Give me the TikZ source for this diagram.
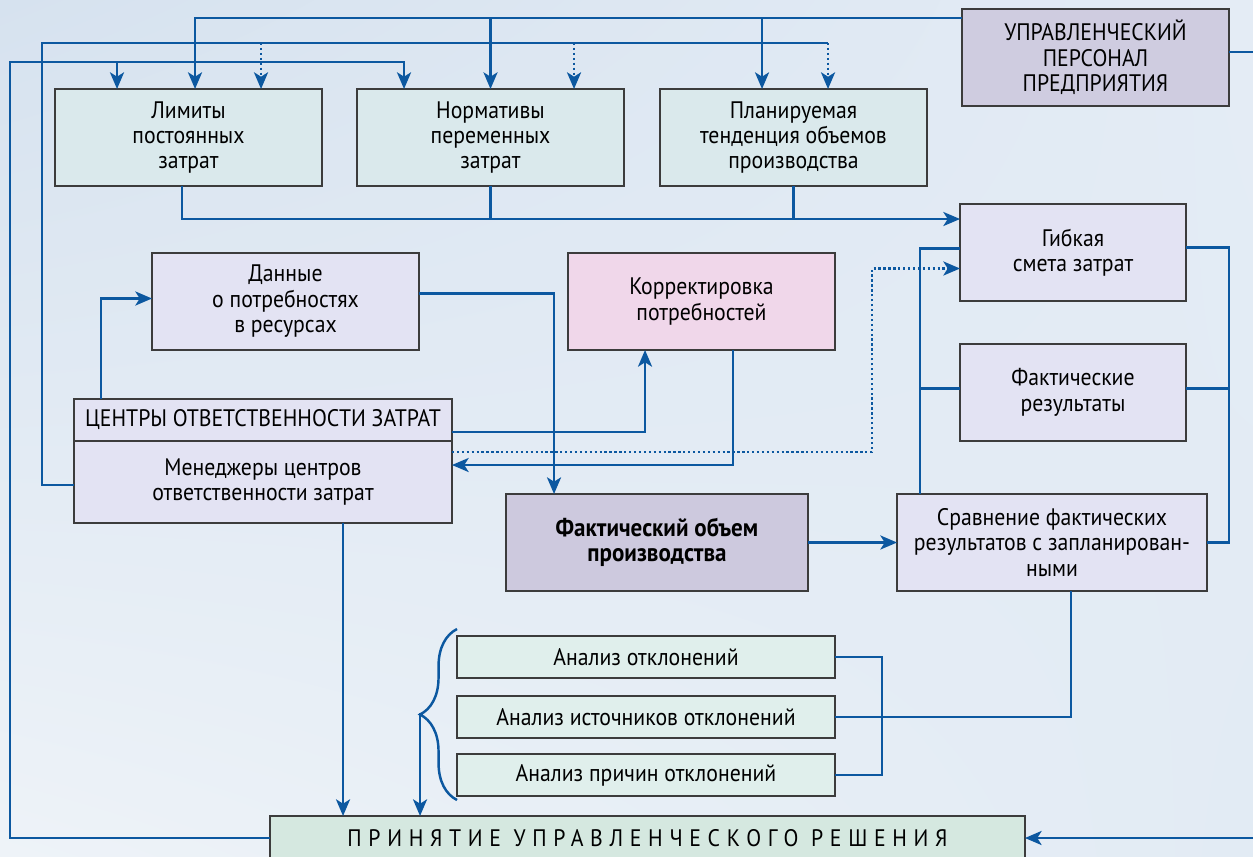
\documentclass[tikz,border=0pt]{standalone}
\usepackage{fontspec}
\setmainfont{PT Sans}[FakeStretch=0.91]
\usetikzlibrary{arrows.meta,shadings}
\usetikzlibrary{calc,decorations.pathreplacing}

\definecolor{lineblue}{RGB}{12,88,160}
\definecolor{boxline}{RGB}{60,60,60}
\definecolor{topfill}{RGB}{218,233,236}
\definecolor{uprfill}{RGB}{207,204,224}
\definecolor{lilfill}{RGB}{227,227,243}
\definecolor{korrfill}{RGB}{240,215,234}
\definecolor{objfill}{RGB}{205,201,222}
\definecolor{anfill}{RGB}{224,239,236}
\definecolor{prinfill}{RGB}{213,232,224}
\definecolor{bgA}{RGB}{214,226,239}
\definecolor{bgB}{RGB}{228,236,245}
\definecolor{bgC}{RGB}{238,243,248}
\definecolor{bgD}{RGB}{226,235,244}

\begin{document}
\begin{tikzpicture}[x=0.02cm, y=-0.02cm, >={Stealth[length=9.5pt,width=8pt,inset=2.5pt]},
  box/.style={draw=boxline, line width=0.7pt, align=center, inner sep=2pt, outer sep=0pt,
    font=\fontsize{13.6}{14.5}\selectfont},
  link/.style={draw=lineblue, line width=1.4pt},
  dotlink/.style={link, dash pattern=on 1.3pt off 1.5pt}]

      % background
      \shade[upper left=bgA, upper right=bgB, lower left=bgC, lower right=bgD]
      (0,0) rectangle (1253,856);
      \useasboundingbox (0,0) rectangle (1253,856);

      \node (upr) at (1095.5,57.5)
      [box, fill=uprfill, minimum width=5.34cm, minimum height=1.94cm]
      {УПРАВЛЕНЧЕСКИЙ\\ПЕРСОНАЛ\\ПРЕДПРИЯТИЯ};

      \node (lim) at (188.5,137.5)
      [box, fill=topfill, minimum width=5.34cm, minimum height=1.94cm]
      {Лимиты\\постоянных\\затрат};
      \node (norm) at (490.5,137.5)
      [box, fill=topfill, minimum width=5.34cm, minimum height=1.94cm]
      {Нормативы\\переменных\\затрат};
      \node (plan) at (793.5,137.5)
      [box, fill=topfill, minimum width=5.34cm, minimum height=1.94cm]
      {Планируемая\\тенденция объемов\\производства};

      \node (dan) at (285.5,301.5)
      [box, fill=lilfill, minimum width=5.34cm, minimum height=1.94cm]
      {Данные\\о потребностях\\в ресурсах};
      \node (korr) at (701.5,301.5)
      [box, fill=korrfill, minimum width=5.34cm, minimum height=1.94cm]
      {Корректировка\\потребностей};

      \node (gib) at (1073,252.5)
      [box, fill=lilfill, minimum width=4.52cm, minimum height=1.94cm]
      {Гибкая\\смета затрат};
      \node (fakt) at (1073,392.5)
      [box, fill=lilfill, minimum width=4.52cm, minimum height=1.94cm]
      {Фактические\\результаты};
      \node (srav) at (1052,542.5)
      [box, fill=lilfill, minimum width=6.2cm, minimum height=1.94cm]
      {Сравнение фактических\\результатов с запланирован-\\ными};

      \node (cen) at (263,420)
      [box, fill=lilfill, minimum width=7.56cm, minimum height=0.84cm]
      {ЦЕНТРЫ ОТВЕТСТВЕННОСТИ ЗАТРАТ};
      \node (men) at (263,482)
      [box, fill=lilfill, minimum width=7.56cm, minimum height=1.64cm]
      {Менеджеры центров\\ответственности затрат};

      \node (fobj) at (657,542.5)
      [box, fill=objfill, minimum width=6.04cm, minimum height=1.94cm,
      font=\fontsize{14.4}{14.5}\selectfont\bfseries]
      {Фактический объем\\производства};

      \node (an1) at (646,657)
      [box, fill=anfill, minimum width=7.56cm, minimum height=0.84cm] {Анализ отклонений};
      \node (an2) at (646,717)
      [box, fill=anfill, minimum width=7.56cm, minimum height=0.84cm] {Анализ источников отклонений};
      \node (an3) at (646,775)
      [box, fill=anfill, minimum width=7.56cm, minimum height=0.84cm] {Анализ причин отклонений};

      \node (prin) at (647.5,838)
      [box, fill=prinfill, minimum width=15.1cm, minimum height=0.88cm]
      {\addfontfeature{LetterSpace=28}ПРИНЯТИЕ УПРАВЛЕНЧЕСКОГО РЕШЕНИЯ};

      % top feed lines
      \coordinate (ua) at ($(upr.north west)+(0,9)$);
      \coordinate (a1) at ($(lim.north west)+(140,0)$);
      \coordinate (a3) at ($(plan.north west)+(102,0)$);
      \draw [link,->] (ua) -| (a1);
      \draw [link,->] (ua -| norm.north) -- (norm.north);
      \draw [link,->] (ua -| a3) -- (a3);

      \coordinate (b1) at ($(lim.north west)+(206,0)$);
      \coordinate (b2) at ($(norm.north west)+(217,0)$);
      \coordinate (b3) at ($(plan.north west)+(168,0)$);
      \draw [link] ($(men.west)+(0,3)$) -- ++(-32,0) |- ($(b3)+(0,-46)$);
      \draw [dotlink,->] ($(b1)+(0,-46)$) -- (b1);
      \draw [dotlink,->] ($(b2)+(0,-46)$) -- (b2);
      \draw [dotlink,->] ($(b3)+(0,-46)$) -- (b3);

      \coordinate (c1) at ($(lim.north west)+(62,0)$);
      \coordinate (c2) at ($(norm.north west)+(47,0)$);
      \draw [link,->] (prin.west) -- ++(-260,0) |- ($(c2)+(0,-27)$) -- (c2);
      \draw [link,->] ($(c1)+(0,-27)$) -- (c1);

      % lines leaving the picture
      \coordinate (eR) at (1253,52);
      \coordinate (eB) at (1253,838);
      \draw [link] (upr.east |- eR) -- (eR);
      \draw [link,->] (eB) -- (prin.east);

      % into the flexible budget
      \coordinate (g1) at ($(gib.north west)+(0,15)$);
      \coordinate (g2) at ($(gib.west)+(0,16)$);
      \draw [link,->] ($(lim.south west)+(127,0)$) |- (g1);
      \draw [link] (norm.south) -- (norm.south |- g1);
      \draw [link] (plan.south) -- (plan.south |- g1);
      \draw [dotlink,->] ($(men.east)+(0,-30)$) -- ++(420,0) |- (g2);

      % middle block
      \draw [link,->] ($(cen.east)+(0,12)$) -| ($(korr.south west)+(77,0)$);
      \draw [link,->] ($(korr.south west)+(165,0)$) |- ($(men.east)+(0,-17)$);
      \draw [link,->] ($(dan.east)+(0,-8)$) -| ($(fobj.north west)+(48,0)$);
      \draw [link,->] ($(cen.north west)+(27,0)$) |- ($(dan.west)+(0,-3)$);
      \coordinate (m1) at ($(men.south west)+(269,0)$);
      \draw [link,->] (m1) -- (m1 |- prin.north);
      \draw [link,->] (fobj.east) -- (fobj.east -| srav.west);

      % comparison loop
      \draw [link] ($(gib.west)+(0,-4)$) -| ($(srav.north west)+(23,0)$);
      \draw [link] ($(fakt.west)+(0,-4)$) -- ++(-40,0);
      \draw [link] ($(gib.east)+(0,-5)$) -- ++(43,0) |- (srav.east);
      \draw [link] ($(fakt.east)+(0,-4)$) -- ++(43,0);

      % analysis
      \draw [link] ($(srav.south west)+(174,0)$) |- (an2.east);
      \draw [link] (an1.east) -- ++(47,0) |- (an3.east);
      \coordinate (bt) at ($(an1.north west)+(0,-7)$);
      \coordinate (bb) at ($(an3.south west)+(0,4)$);
      \coordinate (bm) at ($(an2.west)+(-37,-4)$);
      \draw [link, decorate, decoration={brace, amplitude=0.74cm}] (bb) -- (bt);
      \draw [link,->] (bm) -- (bm |- prin.north);
\end{tikzpicture}
\end{document}
